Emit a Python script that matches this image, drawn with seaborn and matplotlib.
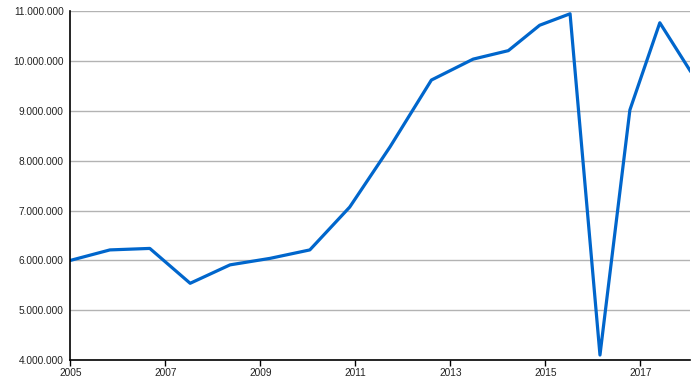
import matplotlib
matplotlib.use("Agg")
import matplotlib.pyplot as plt
import matplotlib.ticker as mticker
import seaborn as sns
import pandas as pd

years = [2005.0, 2005.83, 2006.67, 2007.52, 2008.36, 2009.2, 2010.04, 2010.88,
         2011.73, 2012.6, 2013.48, 2014.22, 2014.88, 2015.52, 2016.15, 2016.78,
         2017.41, 2018.06]
values = [6000000, 6210000, 6240000, 5540000, 5910000, 6040000, 6210000, 7070000,
          8280000, 9620000, 10040000, 10210000, 10720000, 10950000, 4100000, 9020000,
          10770000, 9790000]
x_ticks = [2005, 2007, 2009, 2011, 2013, 2015, 2017]
y_ticks = [4000000, 5000000, 6000000, 7000000, 8000000, 9000000, 10000000, 11000000]

df = pd.DataFrame({"year": years, "value": values})

sns.set_style("white")
plt.rcParams['font.family'] = ['Liberation Sans', 'DejaVu Sans']

fig = plt.figure(figsize=(7.0, 3.8), dpi=100)
ax = fig.add_axes([0.1007, 0.0526, 0.8853, 0.9177])

for yv in y_ticks:
    ax.axhline(yv, color="#b3b3b3", linewidth=1.0, zorder=0)

sns.lineplot(data=df, x="year", y="value", ax=ax, color="#0066cc", linewidth=2.3,
             estimator=None, sort=False)

ax.set_xlim(2005, 2018.05)
ax.set_ylim(4000000, 11000000)
ax.set_xticks(x_ticks)
ax.set_yticks(y_ticks)
ax.yaxis.set_major_formatter(mticker.FuncFormatter(lambda v, p: f"{int(v):,}".replace(",", ".")))
ax.set_xlabel("")
ax.set_ylabel("")

for s in ["top", "right"]:
    ax.spines[s].set_visible(False)
for s in ["left", "bottom"]:
    ax.spines[s].set_color("black")
    ax.spines[s].set_linewidth(1.2)

ax.tick_params(axis="x", direction="out", length=4, width=1, color="black", pad=1.5,
               labelsize=7.3, labelcolor="#222222", bottom=True)
ax.tick_params(axis="y", length=0, pad=5, labelsize=7.3, labelcolor="#222222")

fig.savefig("out.png", dpi=100)
